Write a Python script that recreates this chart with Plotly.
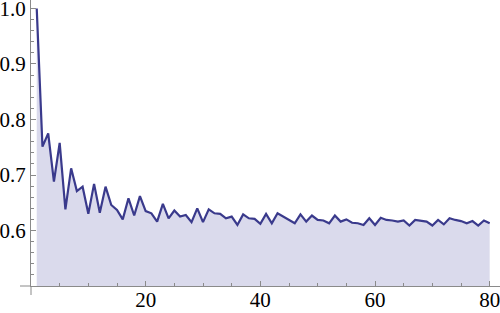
import plotly.graph_objects as go

steps = list(range(1, 81))
values = [1.0, 0.751, 0.775, 0.688, 0.758, 0.638, 0.712, 0.671, 0.679, 0.630,
          0.684, 0.632, 0.679, 0.646, 0.637, 0.620, 0.658, 0.627, 0.662, 0.635,
          0.631, 0.616, 0.648, 0.622, 0.636, 0.625, 0.628, 0.615, 0.640, 0.615,
          0.638, 0.631, 0.630, 0.622, 0.625, 0.610, 0.629, 0.622, 0.621, 0.612,
          0.630, 0.613, 0.631, 0.625, 0.619, 0.613, 0.629, 0.616, 0.627, 0.619,
          0.618, 0.613, 0.627, 0.616, 0.620, 0.614, 0.613, 0.610, 0.622, 0.610,
          0.623, 0.619, 0.618, 0.616, 0.618, 0.609, 0.619, 0.617, 0.616, 0.609,
          0.619, 0.611, 0.622, 0.619, 0.617, 0.613, 0.617, 0.609, 0.618, 0.613]
x_ticks = [20, 40, 60, 80]
y_ticks = [0.6, 0.7, 0.8, 0.9, 1.0]
y_tick_text = ["0.6", "0.7", "0.8", "0.9", "1.0"]

fig = go.Figure()
fig.add_trace(go.Scatter(
    x=steps, y=values, mode="lines",
    line=dict(color="rgb(58,58,140)", width=2.2),
    fill="tozeroy", fillcolor="rgb(218,218,236)",
    hoverinfo="skip", showlegend=False,
))

axis_color = "#8a8a8a"
font = dict(family="Liberation Serif, Times New Roman, serif", size=21, color="black")

fig.update_layout(
    template="none",
    width=500, height=313,
    margin=dict(l=31, r=0, t=0, b=27, autoexpand=False),
    paper_bgcolor="white", plot_bgcolor="white",
    xaxis=dict(
        automargin=False,
        range=[0, 81.8], tickmode="array", tickvals=x_ticks,
        ticks="inside", ticklen=5, tickcolor=axis_color, tickwidth=1,
        showline=True, linecolor=axis_color, linewidth=1,
        showgrid=False, zeroline=False, tickfont=font,
        ticklabeloverflow="allow", ticklabelstandoff=-5,
        minor=dict(dtick=5, tick0=0, ticks="inside", ticklen=3,
                   tickcolor=axis_color, showgrid=False),
    ),
    yaxis=dict(
        automargin=False,
        range=[0.5, 1.0153], tickmode="array", tickvals=y_ticks,
        ticktext=y_tick_text,
        ticks="inside", ticklen=5, tickcolor=axis_color, tickwidth=1,
        showline=True, linecolor=axis_color, linewidth=1,
        showgrid=False, zeroline=False, tickfont=font,
        ticklabeloverflow="allow",
        minor=dict(dtick=0.02, tick0=0.5, ticks="inside", ticklen=3,
                   tickcolor=axis_color, showgrid=False),
    ),
    shapes=[
        dict(type="line", xref="paper", yref="paper",
             x0=-11 / 469, x1=0, y0=0, y1=0,
             line=dict(color=axis_color, width=1)),
        dict(type="line", xref="paper", yref="paper",
             x0=0, x1=0, y0=-9 / 286, y1=0,
             line=dict(color=axis_color, width=1)),
    ],
)

fig.write_html("out.html")
